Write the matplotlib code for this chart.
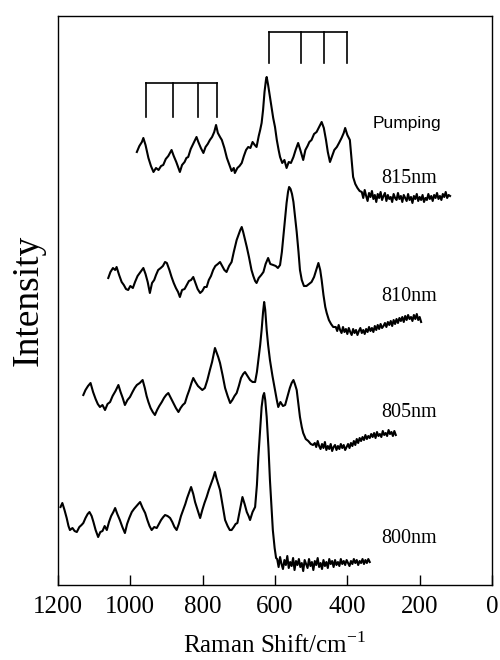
import matplotlib
matplotlib.use('Agg')
import matplotlib.pyplot as plt

plt.rcParams['font.family'] = ['Liberation Serif', 'DejaVu Serif']
plt.rcParams['mathtext.fontset'] = 'custom'
plt.rcParams['mathtext.rm'] = 'Liberation Serif'

# Raman shift (cm-1) and intensity (a.u., traces already offset)
shift_815 = [982, 975, 968, 964, 958, 950, 943, 936, 929, 922, 915, 909, 902, 895, 886,
             880, 873, 868, 863, 857, 850, 845, 840, 833, 825, 817, 812, 805, 798, 792,
             786, 780, 774, 768, 763, 758, 752, 747, 740, 733, 726, 720, 714, 711, 704,
             698, 692, 686, 680, 674, 668, 662, 656, 651, 645, 641, 637, 633, 629, 625,
             623, 619, 616, 614, 609, 605, 600, 595, 590, 586, 580, 574, 568, 562, 556,
             549, 543, 536, 530, 522, 516, 510, 505, 499, 492, 485, 478, 471, 465, 459,
             454, 448, 442, 436, 429, 423, 416, 410, 406, 400, 393, 388, 384, 378, 372,
             366,
             360, 356, 352, 348, 344, 340, 336, 332, 328, 324, 320, 316, 312, 308, 304,
             300, 296, 292, 288, 284, 280, 276, 272, 268, 264, 260, 256, 252, 248, 244,
             240, 236, 232, 228, 224, 220, 216, 212, 208, 204, 200, 196, 192, 188, 184,
             180, 176, 172, 168, 164, 160, 156, 152, 148, 144, 140, 136, 132, 128, 124,
             120, 116]
int_815 = [433, 439, 443, 447, 440, 427, 419, 413, 417, 415, 419, 420, 426, 429, 435,
           429, 423, 418, 413, 420, 423, 427, 428, 436, 442, 448, 443, 437, 432, 438,
           441, 445, 448, 453, 460, 452, 448, 445, 437, 427, 420, 414, 417, 412, 417,
           419, 422, 429, 435, 438, 437, 443, 440, 438, 449, 455, 462, 475, 493, 505,
           508, 500, 493, 488, 477, 467, 458, 445, 435, 428, 422, 425, 417, 423, 422,
           428, 435, 442, 435, 425, 435, 439, 443, 445, 451, 453, 458, 463, 457, 445,
           433, 423, 429, 435, 438, 442, 447, 452, 457, 450, 445, 425, 408, 401, 397,
           394,
           393, 387, 395, 389, 384, 392, 388, 394, 386, 390, 383, 391, 387, 393, 385,
           389, 392, 384, 390, 386, 388, 383, 391, 387, 385, 392, 386, 389, 383, 390,
           387, 384, 391, 385, 388, 382, 389, 386, 391, 384, 388, 385, 390, 383, 387,
           385, 391, 386, 389, 384, 390, 387, 392, 386, 389, 385, 391, 388, 393, 387,
           390, 389]

shift_810 = [1061, 1055, 1048, 1042, 1038, 1031, 1024, 1018, 1012, 1006, 1000, 993, 987,
             980, 972, 964, 958, 952, 946, 940, 934, 929, 923, 916, 910, 904, 899, 892,
             886, 880, 874, 868, 863, 857, 850, 844, 838, 832, 826, 820, 814, 807, 801,
             795, 789, 783, 777, 771, 765, 758, 752, 746, 740, 734, 727, 720, 714, 706,
             700, 696, 692, 688, 684, 678, 672, 665, 660, 655, 651, 645, 638, 632, 626,
             619, 613, 605, 598, 592, 586, 581, 577, 572, 568, 564, 561, 557, 553, 549,
             545, 540, 535, 531, 526, 520, 513, 506, 499, 492, 486, 480, 475, 471, 466,
             461, 457, 451, 445, 439,
             432, 428, 424, 420, 416, 412, 408, 404, 400, 396,
             392, 388, 384, 380, 376, 372, 368, 364, 360, 356,
             352, 348, 344, 340, 336, 332, 328, 324, 320, 316,
             312, 308, 304, 300, 296, 292, 288, 284, 280, 276,
             272, 268, 264, 260, 256, 252, 248, 244, 240, 236,
             232, 228, 224, 220, 216, 212, 208, 204, 200, 196]
int_810 = [307, 313, 317, 315, 318, 310, 303, 300, 296, 295, 299, 297, 303,
           309, 313, 317, 311, 303, 292, 302, 305, 310, 315, 317, 319, 323, 322, 315,
           308, 302, 297, 293, 288, 295, 296, 300, 304, 305, 308, 302, 296, 292, 294,
           298, 298, 305, 309, 315, 319, 321, 323, 319, 315, 313, 319, 323, 333, 345,
           351, 355, 358, 353, 347, 338, 328, 315, 309, 304, 302, 307, 310, 313, 321,
           327, 321, 320, 319, 317, 320, 333, 348, 367, 382, 393, 398, 396, 391, 383,
           370, 353, 333, 315, 305, 299, 299, 301, 303, 308, 315, 322, 315, 305, 290,
           278, 272, 265, 261, 258,
           258, 254, 260, 255, 252, 258, 253, 256, 251, 257,
           253, 250, 256, 252, 255, 250, 254, 257, 252, 255,
           251, 256, 253, 258, 254, 257, 253, 259, 255, 260,
           256, 261, 257, 259, 262, 258, 263, 260, 264, 259,
           265, 261, 266, 262, 267, 264, 268, 263, 269, 265,
           270, 266, 268, 264, 270, 266, 271, 265, 268, 263]

shift_805 = [1130, 1124, 1117, 1110, 1103, 1096, 1090, 1084, 1077, 1070, 1063, 1056, 1049,
             1041, 1033, 1027, 1021, 1015, 1008, 1001, 994, 988, 982, 974, 966, 960, 955,
             950, 944, 938, 932, 926, 920, 913, 907, 901, 895, 888, 881, 874, 867, 861,
             855, 849, 843, 837, 831, 826, 820, 813, 807, 801, 794, 787, 780, 774, 770,
             766, 762, 757, 752, 745, 738, 731, 724, 718, 712, 706, 700, 694, 688, 683,
             676, 669, 662, 655, 650, 646, 641, 637, 633, 630, 627, 623, 619, 614, 607,
             600, 595, 591, 585, 578, 572, 566, 559, 554, 549, 545, 540, 535, 531, 526,
             522, 515, 508, 501, 495,
             490, 486, 482, 478, 474, 470, 466, 462, 458, 454,
             450, 446, 442, 438, 434, 430, 426, 422, 418, 414,
             410, 406, 402, 398, 394, 390, 386, 382, 378, 374,
             370, 366, 362, 358, 354, 350, 346, 342, 338, 334,
             330, 326, 322, 318, 314, 310, 306, 302, 298, 294,
             290, 286, 282, 278, 274, 270, 266]
int_805 = [190, 195, 199, 202, 193, 186, 181, 178, 180, 175, 181, 183, 189,
           194, 200, 193, 187, 180, 185, 188, 193, 197, 200, 202, 205, 197, 189,
           183, 177, 173, 170, 175, 179, 183, 187, 190, 192, 187, 182, 177, 173, 177,
           180, 182, 189, 195, 202, 207, 203, 199, 197, 195, 197, 205, 215, 223, 230,
           237, 233, 228, 222, 210, 197, 189, 182, 185, 189, 192, 199, 207, 211, 213,
           209, 205, 203, 203, 213, 225, 240, 255, 273, 283, 275, 255, 240, 225, 209,
           195, 185, 178, 183, 179, 180, 188, 197, 202, 205, 201, 195, 180, 168, 158,
           152, 146, 144, 141, 140,
           142, 138, 144, 139, 136, 141, 137, 143, 135, 139,
           136, 141, 134, 138, 140, 135, 139, 136, 141, 137,
           140, 135, 138, 141, 137, 142, 139, 144, 140, 146,
           142, 147, 144, 148, 145, 150, 146, 149, 147, 151,
           148, 152, 147, 153, 149, 151, 148, 154, 150, 152,
           149, 155, 151, 153, 149, 154, 150]

shift_800 = [1193, 1188, 1182, 1176, 1171, 1167, 1160, 1154, 1148, 1141, 1135, 1130, 1124,
             1118, 1113, 1107, 1102, 1096, 1089, 1083, 1077, 1071, 1065, 1059, 1053, 1047,
             1042, 1036, 1029, 1022, 1015, 1009, 1003, 996, 990, 983, 978, 973, 966, 959,
             953, 947, 941, 934, 927, 921, 915, 909, 904, 897, 890, 884, 878, 872, 866,
             860, 854, 848, 843, 837, 832, 826, 821, 814, 807, 801, 795, 789, 783, 777,
             771, 766, 762, 757, 752, 745, 738, 731, 725, 720, 714, 709, 704, 697, 690,
             684, 678, 673, 669, 662, 655, 650, 646, 641, 637, 633, 630, 627, 623, 618,
             614, 610, 606, 601, 597,
             594, 590, 586, 582, 578, 574, 570, 566, 562, 558,
             554, 550, 546, 542, 538, 534, 530, 526, 522, 518,
             514, 510, 506, 502, 498, 494, 490, 486, 482, 478,
             474, 470, 466, 462, 458, 454, 450, 446, 442, 438,
             434, 430, 426, 422, 418, 414, 410, 406, 402, 398,
             394, 390, 386, 382, 378, 374, 370, 366, 362, 358,
             354, 350, 346, 342, 338]
int_800 = [78, 82, 75, 67, 59, 55, 57, 54, 53, 58, 60, 62, 67,
           71, 73, 69, 63, 55, 48, 53, 54, 59, 55, 63, 69, 73,
           77, 71, 65, 58, 52, 61, 67, 73, 76, 79, 81, 83, 77, 72,
           65, 59, 55, 58, 57, 61, 65, 68, 70, 69, 67, 63, 58, 55, 61,
           69, 75, 81, 87, 93, 98, 91, 83, 75, 67, 75, 82, 88, 95, 101,
           107, 113, 107, 101, 95, 80, 65, 59, 55, 55, 58, 61, 62, 75, 88,
           81, 73, 69, 65, 73, 78, 100, 128, 155, 178, 189, 192, 185, 168, 137,
           105, 80, 55, 37, 27,
           26, 18, 28, 21, 16, 25, 20, 29, 17, 23,
           19, 27, 15, 24, 20, 26, 18, 22, 14, 25,
           21, 17, 26, 19, 23, 15, 24, 20, 27, 18,
           22, 16, 25, 19, 23, 17, 26, 21, 24, 18,
           25, 20, 23, 19, 26, 21, 24, 20, 25, 22,
           19, 24, 21, 26, 22, 25, 20, 24, 22, 26,
           21, 25, 22, 26, 23]

traces = [(shift_815, int_815), (shift_810, int_810), (shift_805, int_805), (shift_800, int_800)]

trace_labels = ['815nm', '810nm', '805nm', '800nm']
label_height = [406, 288, 173, 47]

# mode assignment combs
upper_comb = [616, 528, 465, 400]
lower_comb = [958, 883, 813, 760]

fig = plt.figure(figsize=(5, 6.6), dpi=100)
ax = fig.add_axes([0.116, 0.1136, 0.868, 0.8622])

for x, y in traces:
    ax.plot(x, y, color='black', lw=1.5)


def draw_comb(marks, top, bottom):
    ax.plot([marks[0], marks[-1]], [top, top], color='black', lw=1.2)
    for m in marks:
        ax.plot([m, m], [bottom, top], color='black', lw=1.2)


draw_comb(upper_comb, 553, 522)
draw_comb(lower_comb, 502, 468)

ax.text(234, 461, 'Pumping', fontsize=12.5, ha='center', va='center',
        family=['Liberation Sans', 'DejaVu Sans'])
for lab, h in zip(trace_labels, label_height):
    ax.text(229, h, lab, fontsize=14.5, ha='center', va='center')

ax.set_xlim(1200, 0)
ax.set_ylim(0, 569)
ax.set_xticks([1200, 1000, 800, 600, 400, 200, 0])
ax.set_yticks([])
ax.tick_params(axis='x', direction='in', length=7, width=1, labelsize=18, pad=8)
for s in ax.spines.values():
    s.set_linewidth(1)

ax.set_xlabel(r'Raman Shift/cm$^{\mathregular{-1}}$', fontsize=18, labelpad=10)
ax.set_ylabel('Intensity', fontsize=27, labelpad=9)

fig.savefig('out.png', dpi=100)
